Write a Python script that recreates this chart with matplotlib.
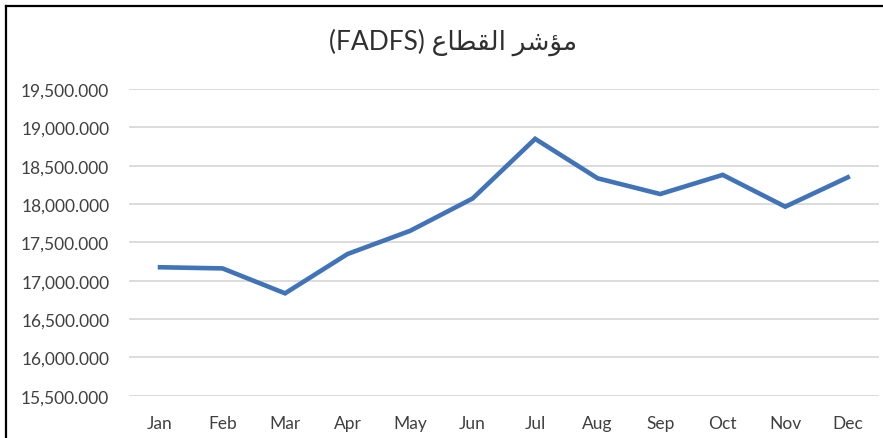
import matplotlib.pyplot as plt
from matplotlib.lines import Line2D
from matplotlib.ticker import FuncFormatter

plt.rcParams['font.family'] = ['Lato', 'DejaVu Sans']

# data
months = ['Jan', 'Feb', 'Mar', 'Apr', 'May', 'Jun',
          'Jul', 'Aug', 'Sep', 'Oct', 'Nov', 'Dec']
index_values = [17175, 17160, 16835, 17348, 17650, 18072,
                18850, 18335, 18130, 18380, 17965, 18348]
y_ticks = [15500, 16000, 16500, 17000, 17500, 18000, 18500, 19000, 19500]

# title "مؤشر القطاع (FADFS)" written in shaped presentation forms, visual order
title = '(FADFS) \uFEC9\uFE8E\uFEC4\uFED8\uFEDF\uFE8D \uFEAE\uFEB7\uFE86\uFEE3'

fig = plt.figure(figsize=(8.83, 4.39), dpi=100)
ax = fig.add_axes([0.1458, 0.0964, 0.8497, 0.6986])

x = range(len(months))
ax.plot(x, index_values, color='#4173B8', linewidth=3.3,
        solid_joinstyle='miter', zorder=3)

ax.set_xlim(-0.5, len(months) - 0.5)
ax.set_ylim(y_ticks[0], y_ticks[-1])
ax.set_yticks(y_ticks)
ax.yaxis.set_major_formatter(FuncFormatter(lambda v, p: f'{v:,.3f}'))
ax.set_xticks(list(x))
ax.set_xticklabels(months)

ax.grid(axis='y', color='#D9D9D9', linewidth=1.3)
ax.set_axisbelow(True)
for s in ax.spines.values():
    s.set_visible(False)
ax.tick_params(axis='both', length=0, labelsize=12.5, colors='#404040')
ax.tick_params(axis='y', pad=14)
ax.tick_params(axis='x', pad=14)

fig.text(0.513, 0.903, title, ha='center', va='center', fontsize=19,
         color='#303030')

# outer chart border (left and top edges visible in screenshot)
fig.add_artist(Line2D([6 / 883, 6 / 883], [0, 1 - 7 / 439], color='black',
                      linewidth=1.6, transform=fig.transFigure))
fig.add_artist(Line2D([6 / 883, 1], [1 - 7 / 439, 1 - 7 / 439], color='black',
                      linewidth=1.6, transform=fig.transFigure))

fig.savefig('out.png', dpi=100)
